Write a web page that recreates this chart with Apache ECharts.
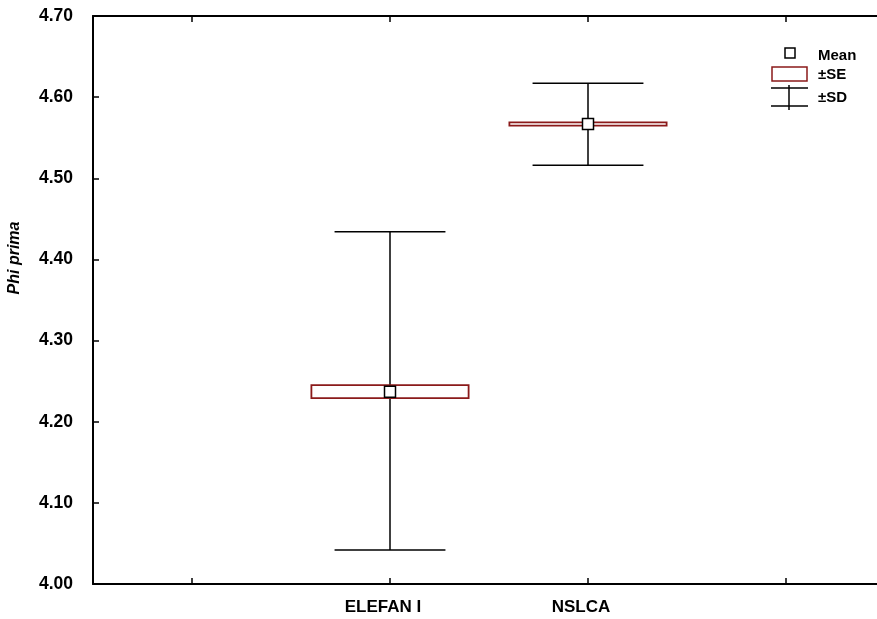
<!DOCTYPE html>
<html>
<head>
<meta charset="utf-8">
<script src="https://cdn.jsdelivr.net/npm/echarts@6/dist/echarts.min.js"></script>
<style>html,body{margin:0;padding:0;background:#fff;overflow:hidden}#c{width:885px;height:619px}</style>
</head>
<body>
<div id="c"></div>
<script>
var categories = ["ELEFAN I", "NSLCA"];
var means = [4.237, 4.567];
var seLow = [4.229, 4.565];
var seHigh = [4.245, 4.569];
var sdLow = [4.042, 4.516];
var sdHigh = [4.434, 4.617];
var yTicks = [4.0, 4.1, 4.2, 4.3, 4.4, 4.5, 4.6, 4.7];

var axisCats = [""].concat(categories).concat([""]);
var FONT = "Liberation Sans";
var SE_COLOR = "#8b1a1a";

var seData = categories.map(function (c, i) { return [i + 1, seLow[i], seHigh[i]]; });
var sdData = categories.map(function (c, i) { return [i + 1, sdLow[i], sdHigh[i]]; });
var meanData = categories.map(function (c, i) { return [i + 1, means[i]]; });

var chart = echarts.init(document.getElementById('c'));
chart.setOption({
  animation: false,
  backgroundColor: '#fff',
  grid: { left: 93, right: 0, top: 16, bottom: 35, containLabel: false },
  xAxis: [{
    type: 'category', data: axisCats, boundaryGap: true, position: 'bottom',
    axisLine: { lineStyle: { color: '#000', width: 2 } },
    axisTick: { show: true, inside: true, alignWithLabel: true, interval: 0, length: 6, lineStyle: { color: '#000', width: 1.5 } },
    axisLabel: { color: '#000', fontFamily: FONT, fontWeight: 'bold', fontSize: 17, margin: 15, padding: [0, 14, 0, 0], interval: 0 },
    splitLine: { show: false }
  }, {
    type: 'category', data: axisCats, boundaryGap: true, position: 'top',
    axisLine: { lineStyle: { color: '#000', width: 2 } },
    axisTick: { show: true, inside: true, alignWithLabel: true, interval: 0, length: 6, lineStyle: { color: '#000', width: 1.5 } },
    axisLabel: { show: false },
    splitLine: { show: false }
  }],
  yAxis: {
    type: 'value', min: yTicks[0], max: yTicks[yTicks.length - 1], interval: 0.1,
    axisLine: { show: true, lineStyle: { color: '#000', width: 2 } },
    axisTick: { show: true, inside: true, length: 6, lineStyle: { color: '#000', width: 1.5 } },
    axisLabel: { color: '#000', fontFamily: FONT, fontWeight: 'bold', fontSize: 17.5, margin: 20,
      formatter: function (v) { return v.toFixed(2); } },
    splitLine: { show: false }
  },
  series: [{
    type: 'custom',
    name: 'SD',
    data: sdData,
    z: 2,
    renderItem: function (params, api) {
      var x = api.value(0);
      var top = api.coord([x, api.value(2)]);
      var bot = api.coord([x, api.value(1)]);
      var bw = api.size([1, 0])[0];
      var hw = bw * 0.28;
      var st = { stroke: '#000', lineWidth: 1.5 };
      return { type: 'group', children: [
        { type: 'line', shape: { x1: top[0], y1: top[1], x2: bot[0], y2: bot[1] }, style: st },
        { type: 'line', shape: { x1: top[0] - hw, y1: top[1], x2: top[0] + hw, y2: top[1] }, style: st },
        { type: 'line', shape: { x1: bot[0] - hw, y1: bot[1], x2: bot[0] + hw, y2: bot[1] }, style: st }
      ] };
    }
  }, {
    type: 'custom',
    name: 'SE',
    data: seData,
    z: 3,
    renderItem: function (params, api) {
      var x = api.value(0);
      var top = api.coord([x, api.value(2)]);
      var bot = api.coord([x, api.value(1)]);
      var bw = api.size([1, 0])[0];
      var hw = bw * 0.397;
      return { type: 'rect', shape: { x: top[0] - hw, y: top[1], width: 2 * hw, height: bot[1] - top[1] },
        style: { fill: 'none', stroke: SE_COLOR, lineWidth: 1.8 } };
    }
  }, {
    type: 'scatter',
    name: 'Mean',
    data: meanData,
    z: 4,
    symbol: 'rect',
    symbolSize: 11,
    itemStyle: { color: '#fff', borderColor: '#000', borderWidth: 1.5, opacity: 1 }
  }],
  graphic: [
    { type: 'text', x: 15, y: 258, rotation: Math.PI / 2,
      style: { text: 'Phi prima', font: 'italic bold 16px "Liberation Sans"', fill: '#000', align: 'center', verticalAlign: 'middle' } },
    { type: 'rect', shape: { x: 785, y: 48, width: 10, height: 10 }, style: { fill: '#fff', stroke: '#000', lineWidth: 1.5 } },
    { type: 'text', x: 818, y: 56, style: { text: 'Mean', font: 'bold 15px "Liberation Sans"', fill: '#000', verticalAlign: 'middle' } },
    { type: 'rect', shape: { x: 772, y: 67, width: 35, height: 14 }, style: { fill: '#fff', stroke: SE_COLOR, lineWidth: 1.5 } },
    { type: 'text', x: 818, y: 75, style: { text: '±SE', font: 'bold 15px "Liberation Sans"', fill: '#000', verticalAlign: 'middle' } },
    { type: 'line', shape: { x1: 771, y1: 88, x2: 808, y2: 88 }, style: { stroke: '#000', lineWidth: 1.5 } },
    { type: 'line', shape: { x1: 771, y1: 106, x2: 808, y2: 106 }, style: { stroke: '#000', lineWidth: 1.5 } },
    { type: 'line', shape: { x1: 789, y1: 85, x2: 789, y2: 110 }, style: { stroke: '#000', lineWidth: 1.5 } },
    { type: 'text', x: 818, y: 98, style: { text: '±SD', font: 'bold 15px "Liberation Sans"', fill: '#000', verticalAlign: 'middle' } }
  ]
});
</script>
</body>
</html>
